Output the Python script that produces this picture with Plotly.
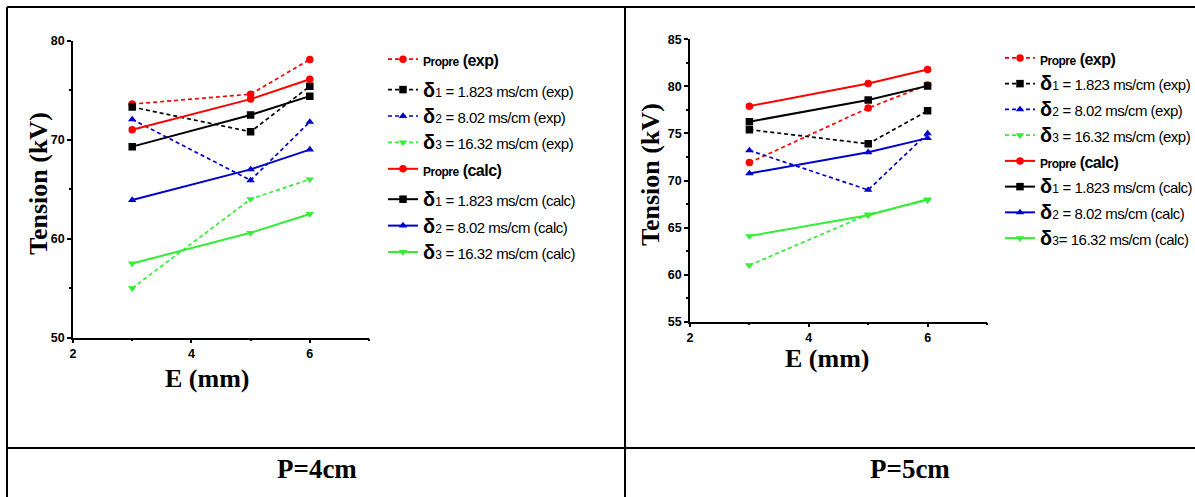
import plotly.graph_objects as go

W, H = 1195, 497

E_mm = [3, 5, 6]

# P = 4 cm
p4_propre_exp = [73.6, 74.6, 78.1]
p4_d1_exp = [73.3, 70.8, 75.4]
p4_d2_exp = [72.05, 65.9, 71.8]
p4_d3_exp = [55.0, 64.0, 66.0]
p4_propre_calc = [71.0, 74.1, 76.1]
p4_d1_calc = [69.3, 72.5, 74.4]
p4_d2_calc = [63.9, 67.0, 69.0]
p4_d3_calc = [57.5, 60.6, 62.5]

# P = 5 cm
p5_propre_exp = [71.9, 77.7, 80.15]
p5_d1_exp = [75.4, 73.9, 77.4]
p5_d2_exp = [73.2, 69.0, 75.0]
p5_d3_exp = [61.0, 66.4, 67.9]
p5_propre_calc = [77.9, 80.3, 81.8]
p5_d1_calc = [76.25, 78.55, 80.05]
p5_d2_calc = [70.75, 73.0, 74.5]
p5_d3_calc = [64.1, 66.3, 68.0]

SANS = "Liberation Sans Narrow, Arial Narrow, Liberation Sans, Arial, sans-serif"
SERIF = "Liberation Serif, Times New Roman, serif"

LS = "letter-spacing:-0.5px"


def dlabel(n, val, kind, eqgap=" "):
    return ("<span style='font-size:15px'><b><span style='font-size:20px'>δ</span></b>"
            f"<span style='font-size:12px'>{n}</span>"
            f"<span style='{LS}'>{eqgap}= {val} ms/cm ({kind})</span></span>")


def plabel(kind):
    return (f"<span style='font-size:16px'><b><span style='font-size:12px;{LS}'>Propre</span>"
            f"<span style='{LS}'> ({kind})</span></b></span>")


RED = "#FF0000"
BLACK = "#000000"
BLUE = "#0000CC"
GREEN = "#33EE33"

series_meta = [
    ("propre_exp", RED, "circle", "dash", "g1"),
    ("d1_exp", BLACK, "square", "dash", "g2"),
    ("d2_exp", BLUE, "triangle-up", "dash", "g2"),
    ("d3_exp", GREEN, "triangle-down", "dash", "g2"),
    ("propre_calc", RED, "circle", "solid", "g2"),
    ("d1_calc", BLACK, "square", "solid", "g3"),
    ("d2_calc", BLUE, "triangle-up", "solid", "g3"),
    ("d3_calc", GREEN, "triangle-down", "solid", "g3"),
]

p4 = {
    "propre_exp": p4_propre_exp, "d1_exp": p4_d1_exp, "d2_exp": p4_d2_exp, "d3_exp": p4_d3_exp,
    "propre_calc": p4_propre_calc, "d1_calc": p4_d1_calc, "d2_calc": p4_d2_calc, "d3_calc": p4_d3_calc,
}
p5 = {
    "propre_exp": p5_propre_exp, "d1_exp": p5_d1_exp, "d2_exp": p5_d2_exp, "d3_exp": p5_d3_exp,
    "propre_calc": p5_propre_calc, "d1_calc": p5_d1_calc, "d2_calc": p5_d2_calc, "d3_calc": p5_d3_calc,
}

labels4 = {
    "propre_exp": plabel("exp"),
    "d1_exp": dlabel(1, "1.823", "exp"),
    "d2_exp": dlabel(2, "8.02", "exp"),
    "d3_exp": dlabel(3, "16.32", "exp"),
    "propre_calc": plabel("calc"),
    "d1_calc": dlabel(1, "1.823", "calc"),
    "d2_calc": dlabel(2, "8.02", "calc"),
    "d3_calc": dlabel(3, "16.32", "calc"),
}
labels5 = dict(labels4)
labels5["d3_calc"] = dlabel(3, "16.32", "calc", eqgap="")

fig = go.Figure()

for data, labels, xa, ya, leg, grouped in [(p4, labels4, "x", "y", "legend", True),
                                           (p5, labels5, "x2", "y2", "legend2", False)]:
    for key, color, sym, dash, grp in series_meta:
        fig.add_trace(go.Scatter(
            x=E_mm, y=data[key], mode="lines+markers", name=labels[key],
            xaxis=xa, yaxis=ya, legend=leg,
            legendgroup=(leg + grp) if grouped else None,
            line=dict(color=color, width=1.7 if dash == "dash" else 2,
                      dash="4px,3px" if dash == "dash" else "solid"),
            marker=dict(color=color, symbol=sym, size=7.5),
        ))


def px_x(v):
    return v / W


def px_y(v):
    return 1 - v / H


axis_common = dict(
    showline=True, linecolor="black", linewidth=1.5, showgrid=False, zeroline=False,
    ticks="outside", ticklen=4, tickwidth=1.5, tickcolor="black",
    tickfont=dict(family=SANS, size=12.5, color="black", weight="bold"),
)

fig.update_layout(
    width=W, height=H, margin=dict(l=0, r=0, t=0, b=0, autoexpand=False),
    paper_bgcolor="white", plot_bgcolor="white",
    xaxis=dict(domain=[px_x(73), px_x(369)], range=[2, 7], dtick=2, tick0=2, anchor="y",
               minor=dict(dtick=1, ticks="outside", ticklen=2, tickcolor="black"), **axis_common),
    yaxis=dict(domain=[px_y(337.7), px_y(40.7)], range=[50, 80], dtick=10, anchor="x",
               minor=dict(dtick=5, ticks="outside", ticklen=2, tickcolor="black"), **axis_common),
    xaxis2=dict(domain=[px_x(690), px_x(987)], range=[2, 7], dtick=2, tick0=2, anchor="y2",
                minor=dict(dtick=1, ticks="outside", ticklen=2, tickcolor="black"), **axis_common),
    yaxis2=dict(domain=[px_y(321.7), px_y(39.3)], range=[55, 85], dtick=5, anchor="x2",
                minor=dict(dtick=2.5, ticks="outside", ticklen=2, tickcolor="black"), **axis_common),
    legend=dict(x=px_x(383), y=px_y(41), xanchor="left", yanchor="top",
                font=dict(family=SANS, size=18, color="black"), bgcolor="rgba(0,0,0,0)",
                tracegroupgap=4, itemwidth=30, borderwidth=0),
    legend2=dict(x=px_x(1000), y=px_y(40), xanchor="left", yanchor="top",
                 font=dict(family=SANS, size=17.5, color="black"), bgcolor="rgba(0,0,0,0)",
                 tracegroupgap=0, itemwidth=30, borderwidth=0),
    showlegend=True,
)

# table borders
line_style = dict(color="black", width=2)
for (x0, y0, x1, y1) in [(7, 7, W, 7), (7, 7, 7, H), (625, 7, 625, H), (7, 448, W, 448)]:
    fig.add_shape(type="line", xref="paper", yref="paper",
                  x0=px_x(x0), y0=px_y(y0), x1=px_x(x1), y1=px_y(y1), line=line_style)

annos = [
    ("Tension (kV)", 38, 184, -90, 26),
    ("Tension (kV)", 650, 175, -90, 26),
    ("E (mm)", 207, 378, 0, 26),
    ("E (mm)", 827, 358, 0, 26),
    ("P=4cm", 317, 469, 0, 27),
    ("P=5cm", 910, 469, 0, 27),
]
for text, xp, yp, ang, fs in annos:
    fig.add_annotation(text=f"<b>{text}</b>", x=px_x(xp), y=px_y(yp), xref="paper", yref="paper",
                       showarrow=False, textangle=ang,
                       font=dict(family=SERIF, size=fs, color="black", weight="bold"),
                       xanchor="center", yanchor="middle")

fig.write_html("out.html", config={"displayModeBar": False},
               post_script="document.body.style.margin='0';document.body.style.overflow='hidden';")
